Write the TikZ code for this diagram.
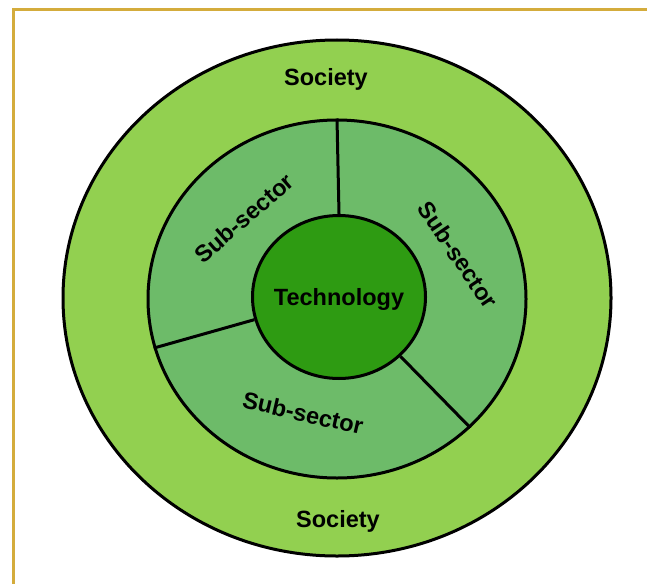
\documentclass[tikz,border=0pt]{standalone}
\usepackage{fontspec}
\setmainfont{Liberation Sans}
\usetikzlibrary{shapes.geometric}

\definecolor{marco}{HTML}{D4AC3C}
\definecolor{sociedad}{HTML}{92D050}
\definecolor{subsector}{HTML}{6DBB69}
\definecolor{tecnologia}{HTML}{2E9B12}

\tikzset{
    circulo/.style={ellipse, draw=black, line width=3pt, inner sep=0pt},
    divisor/.style={draw=black, line width=3pt},
    etiqueta/.style={font=\bfseries\fontsize{23.5}{27}\selectfont, inner sep=0pt}
}

\begin{document}
\begin{tikzpicture}[x=1pt, y=-1pt]

    \useasboundingbox (0,0) rectangle (647,583);
    \clip (0,0) rectangle (647,583);

    % Marco exterior
    \draw[marco, line width=3pt] (13.8,9.5) rectangle (680,620);

    % Anillos
    \node[circulo, fill=sociedad, minimum width=548pt, minimum height=516pt] (sociedad) at (337,298) {};
    \node[circulo, fill=subsector, minimum width=378pt, minimum height=358pt] (sectores) at (337,299) {};
    \node[circulo, fill=tecnologia, minimum width=173pt, minimum height=163pt] (tecno) at (339,297) {};
    \node[etiqueta] (tecnoTxt) at (339,299) {Technology};

    % Divisiones entre sub-sectores
    \draw[divisor] (tecno.90) -- (sectores.90);
    \draw[divisor] (tecno.195) -- (sectores.195);
    \draw[divisor] (tecno.-44) -- (sectores.-44);

    % Textos
    \begin{scope}[etiqueta]
        \node (socArriba) at (326,79) {Society};
        \node (socAbajo) at (338,521) {Society};
        \node[rotate=41] (subIzq) at (244,218) {Sub-sector};
        \node[rotate=-56] (subDer) at (458,255) {Sub-sector};
        \node[rotate=-13] (subAbajo) at (303,413) {Sub-sector};
    \end{scope}

\end{tikzpicture}
\end{document}
